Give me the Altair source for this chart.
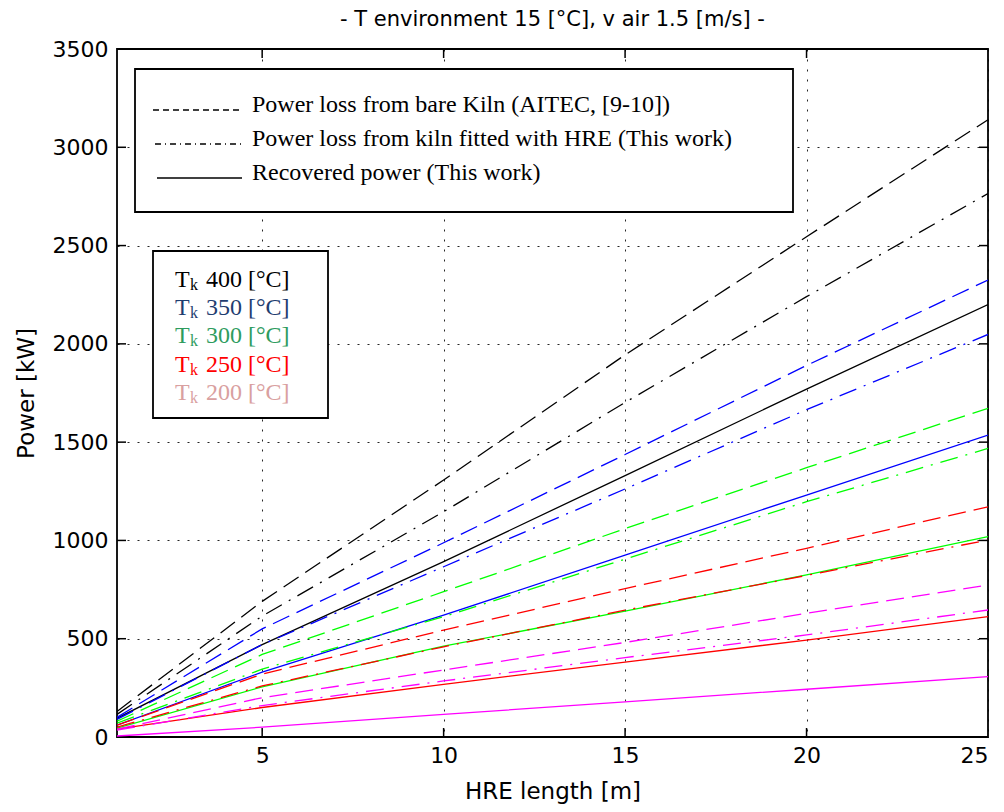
import altair as alt
import pandas as pd

# ---------------- data ----------------
X = [1, 5, 10, 15, 20, 25]
TEMPS = ["400", "350", "300", "250", "200"]
LINE_COLORS = ["#000000", "#0000ff", "#00ff00", "#ff0000", "#ff00ff"]
LEGEND_COLORS = ["#000000", "#1f3d70", "#2e9c5e", "#ff0000", "#d9a0a0"]

# Power loss from bare kiln (dashed)
BARE_400 = [130, 690, 1307, 1944, 2545, 3140]
BARE_350 = [100, 550, 988, 1437, 1890, 2325]
BARE_300 = [80, 420, 739, 1060, 1370, 1672]
BARE_250 = [60, 320, 544, 755, 960, 1171]
BARE_200 = [40, 200, 341, 481, 629, 773]
# Power loss from kiln fitted with HRE (dash-dot)
HRE_400 = [115, 615, 1146, 1702, 2240, 2765]
HRE_350 = [90, 470, 866, 1262, 1665, 2048]
HRE_300 = [70, 345, 612, 905, 1197, 1468]
HRE_250 = [50, 260, 459, 645, 822, 1002]
HRE_200 = [35, 160, 285, 404, 519, 646]
# Recovered power (solid)
REC_400 = [95, 470, 892, 1330, 1770, 2200]
REC_350 = [60, 330, 620, 925, 1231, 1536]
REC_300 = [45, 255, 462, 640, 825, 1019]
REC_250 = [40, 150, 268, 381, 493, 612]
REC_200 = [5, 50, 115, 179, 243, 307]

X_TICKS = [5, 10, 15, 20, 25]
Y_TICKS = [0, 500, 1000, 1500, 2000, 2500, 3000, 3500]
X_INNER_TICKS = [5, 10, 15, 20]
Y_INNER_TICKS = [500, 1000, 1500, 2000, 2500, 3000]

TITLE = "- T environment 15 [°C], v air 1.5 [m/s] -"
X_TITLE = "HRE length [m]"
Y_TITLE = "Power [kW]"
LEG1 = ["Power loss from bare Kiln (AITEC, [9-10])",
        "Power loss from kiln fitted with HRE (This work)",
        "Recovered power (This work)"]
LEG2 = ["400 [°C]", "350 [°C]", "300 [°C]", "250 [°C]", "200 [°C]"]

series = {
    "bare": [BARE_400, BARE_350, BARE_300, BARE_250, BARE_200],
    "hre": [HRE_400, HRE_350, HRE_300, HRE_250, HRE_200],
    "rec": [REC_400, REC_350, REC_300, REC_250, REC_200],
}
rows = []
for kind, lst in series.items():
    for t, vals in zip(TEMPS, lst):
        for xv, v in zip(X, vals):
            rows.append({"x": xv, "value": v, "temp": t, "kind": kind})
df = pd.DataFrame(rows)

# ---------------- chart ----------------
W, H = 871, 688
SANS = "DejaVu Sans"
SERIF = "Liberation Serif"

x_scale = alt.Scale(domain=[1, 25], nice=False, zero=False)
y_scale = alt.Scale(domain=[0, 3500], nice=False)
x_enc = alt.X("x:Q", scale=x_scale,
              axis=alt.Axis(values=X_TICKS, title=X_TITLE, labelPadding=8,
                            titlePadding=14, format="d"))
y_enc = alt.Y("value:Q", scale=y_scale,
              axis=alt.Axis(values=Y_TICKS, title=Y_TITLE, labelPadding=9,
                            titlePadding=14, format="d"))
color_enc = alt.Color("temp:N", scale=alt.Scale(domain=TEMPS, range=LINE_COLORS),
                      legend=None)

base = alt.Chart(df)


def lines(kind, dash=None):
    kw = dict(strokeWidth=1.3, clip=True)
    if dash:
        kw["strokeDash"] = dash
    return base.transform_filter(alt.datum.kind == kind).mark_line(**kw).encode(
        x=x_enc, y=y_enc, color=color_enc, detail="temp:N", order="x:Q")


layers = [
    lines("rec"),
    lines("hre", [18, 8, 2, 8]),
    lines("bare", [18, 8]),
]

# inward ticks on all four sides
xt = alt.Chart(pd.DataFrame({"x": X_INNER_TICKS})).mark_rule(color="black", strokeWidth=1.5)
yt = alt.Chart(pd.DataFrame({"value": Y_INNER_TICKS})).mark_rule(color="black", strokeWidth=1.5)
layers += [
    xt.encode(x="x:Q", y=alt.value(H), y2=alt.value(H - 9)),
    xt.encode(x="x:Q", y=alt.value(0), y2=alt.value(9)),
    yt.encode(y="value:Q", x=alt.value(0), x2=alt.value(9)),
    yt.encode(y="value:Q", x=alt.value(W), x2=alt.value(W - 9)),
]

one = pd.DataFrame({"a": [0]})


def rect(x1, x2, y1, y2):
    return alt.Chart(one).mark_rect(fill="white", stroke="black", strokeWidth=1.8).encode(
        x=alt.value(x1), x2=alt.value(x2), y=alt.value(y1), y2=alt.value(y2))


def text(s, x, y, size, color="black", font=SERIF):
    return alt.Chart(one).mark_text(text=s, font=font, fontSize=size, color=color,
                                    align="left", baseline="alphabetic").encode(
        x=alt.value(x), y=alt.value(y))


def sample(x1, x2, y, dash=None):
    kw = dict(color="black", strokeWidth=1.3)
    if dash:
        kw["strokeDash"] = dash
    return alt.Chart(one).mark_rule(**kw).encode(
        x=alt.value(x1), x2=alt.value(x2), y=alt.value(y))


# legend box 1 (line styles)
layers.append(rect(18, 676, 20, 163))
ly = [61, 95, 129]
layers.append(sample(36, 125, ly[0], [6, 4]))
layers.append(sample(38, 125, ly[1], [6, 4, 1, 4]))
layers.append(sample(40, 125, ly[2]))
for s, yy in zip(LEG1, ly):
    layers.append(text(s, 135, yy + 2, 24))

# legend box 2 (temperatures)
layers.append(rect(36, 211, 202, 369))
by = [238, 266, 294, 323, 351]
for s, yy, c in zip(LEG2, by, LEGEND_COLORS):
    layers.append(text("T", 58, yy, 24, c))
    layers.append(text("k", 73, yy + 3, 16, c))
    layers.append(text(s, 89, yy, 24, c))

chart = alt.layer(*layers).properties(
    width=W, height=H,
    title=alt.Title(TITLE, font=SANS, fontSize=21, fontWeight="normal", offset=8,
                    color="black"),
    autosize=alt.AutoSizeParams(type="none"),
    padding={"left": 109, "top": 41, "right": 8, "bottom": 72},
).configure_view(stroke="black", strokeWidth=1.8).configure_axis(
    domain=False, ticks=False, grid=True, gridColor="black", gridDash=[2, 8],
    gridWidth=1, gridOpacity=0.85,
    labelFont=SANS, labelFontSize=22, labelColor="black",
    titleFont=SANS, titleFontSize=23, titleColor="black", titleFontWeight="normal",
)

chart.save("out.html", embed_options={"renderer": "svg", "actions": False})
